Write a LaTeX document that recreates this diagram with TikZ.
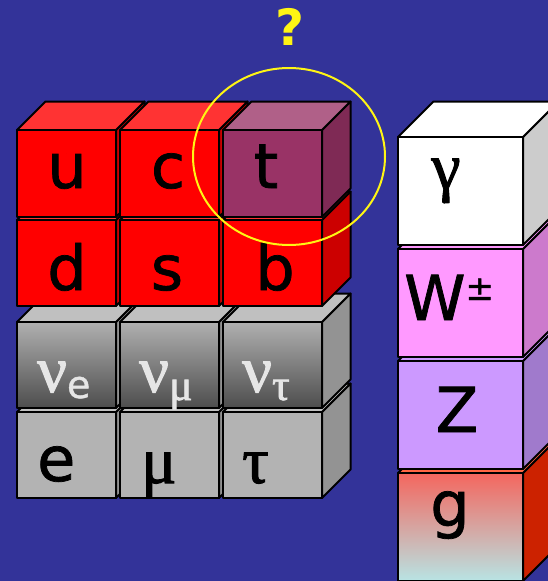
\documentclass[tikz,border=0pt]{standalone}
\usepackage{fontspec}
\setmainfont{DejaVu Sans}
\newfontfamily\labelfont[FakeBold=1.2]{DejaVu Sans}
\newfontfamily\greekfont[FakeBold=1.5]{Liberation Serif}
\usepackage{tikz}
\definecolor{bgblue}{RGB}{51,51,153}
\definecolor{qfront}{RGB}{255,0,0}
\definecolor{qtop}{RGB}{255,51,51}
\definecolor{qside}{RGB}{204,0,0}
\definecolor{tfront}{RGB}{153,51,102}
\definecolor{ttop}{RGB}{176,96,136}
\definecolor{tside}{RGB}{127,42,85}
\definecolor{ltop}{RGB}{192,192,192}
\definecolor{lside}{RGB}{147,147,147}
\definecolor{lfront}{RGB}{179,179,179}
\definecolor{nuhigh}{RGB}{176,176,176}
\definecolor{nulow}{RGB}{77,77,77}
\definecolor{nutext}{RGB}{230,230,230}
\definecolor{gside}{RGB}{204,204,204}
\definecolor{wfront}{RGB}{255,153,255}
\definecolor{wside}{RGB}{204,122,204}
\definecolor{zfront}{RGB}{204,153,255}
\definecolor{zside}{RGB}{160,122,204}
\definecolor{glhigh}{RGB}{244,102,94}
\definecolor{glmid}{RGB}{214,192,192}
\definecolor{gllow}{RGB}{184,228,228}
\definecolor{gltop}{RGB}{255,102,68}
\definecolor{glside}{RGB}{204,34,0}
\definecolor{ring}{RGB}{255,245,20}
\newcommand{\block}[8]{%
  \filldraw[edge,fill=#8] (#1+#3,#2) -- ++(#5,-#5) -- ++(0,#4) -- ++(-#5,#5) -- cycle;
  \filldraw[edge,fill=#7] (#1,#2) -- ++(#5,-#5) -- ++(#3,0) -- ++(-#5,#5) -- cycle;
  \path[edge,#6] (#1,#2) rectangle ++(#3,#4);
}

\begin{document}
\begin{tikzpicture}[x=1pt,y=-1pt,
  edge/.style={draw=black,line width=2pt,line join=round},
  lbl/.style={anchor=base,inner sep=0pt,font=\labelfont\fontsize{62}{62}\selectfont},
  grk/.style={anchor=base west,inner sep=0pt,font=\greekfont\fontsize{66}{66}\selectfont},
  nulbl/.style={grk,text=nutext}]
	\useasboundingbox (0,0) rectangle (548,581);
	\fill[bgblue] (0,0) rectangle (548,581);
	\block{17}{412}{99}{86}{28.5}{fill=lfront}{ltop}{lside}
	\block{120}{412}{99}{86}{28.5}{fill=lfront}{ltop}{lside}
	\block{223}{412}{99}{86}{28.5}{fill=lfront}{ltop}{lside}
	\block{17}{322}{99}{86}{28.5}{top color=nuhigh,bottom color=nulow}{ltop}{lside}
	\block{120}{322}{99}{86}{28.5}{top color=nuhigh,bottom color=nulow}{ltop}{lside}
	\block{223}{322}{99}{86}{28.5}{top color=nuhigh,bottom color=nulow}{ltop}{lside}
	\block{17}{220}{99}{86}{28.5}{fill=qfront}{qtop}{qside}
	\block{120}{220}{99}{86}{28.5}{fill=qfront}{qtop}{qside}
	\block{223}{220}{99}{86}{28.5}{fill=qfront}{qtop}{qside}
	\block{17}{130}{99}{87}{28.5}{fill=qfront}{qtop}{qside}
	\block{120}{130}{99}{87}{28.5}{fill=qfront}{qtop}{qside}
	\block{223}{130}{99}{87}{28.5}{fill=tfront}{ttop}{tside}
	\block{398}{473}{125}{108}{35.5}{top color=glhigh,middle color=glmid,bottom color=gllow}{gltop}{glside}
	\block{398}{361}{125}{108}{35.5}{fill=zfront}{zfront}{zside}
	\block{398}{249}{125}{108}{35.5}{fill=wfront}{wfront}{wside}
	\block{398}{137}{125}{108}{35.5}{fill=white}{white}{gside}
	\node[lbl] (up) at (67,188) {u};
	\node[lbl] (charm) at (168,188) {c};
	\node[lbl] (top) at (266,188) {t};
	\node[lbl] (down) at (67,290) {d};
	\node[lbl] (strange) at (167,290) {s};
	\node[lbl] (bottom) at (275,290) {b};
	\node[nulbl] (nue) at (37,392) {ν{\labelfont\fontsize{38}{38}\selectfont\raisebox{-6pt}{e}}};
	\node[nulbl] (numu) at (139,392) {ν{\fontsize{44}{44}\selectfont\raisebox{-8pt}{μ}}};
	\node[nulbl] (nutau) at (242,392) {ν{\fontsize{44}{44}\selectfont\raisebox{-8pt}{τ}}};
	\node[lbl,anchor=base west] (electron) at (37,481) {e};
	\node[grk] (muon) at (141,483) {μ};
	\node[grk] (tau) at (242,483) {τ};
	\node[grk,anchor=base] (photon) at (446,189) {γ};
	\node[lbl,anchor=base west] (wboson) at (404,320) {W{\fontsize{34}{34}\selectfont\raisebox{20pt}{±}}};
	\node[lbl] (zboson) at (457,432) {Z};
	\node[lbl] (gluon) at (450,526) {g};
	\node[anchor=base,inner sep=0pt,text=ring,font=\bfseries\fontsize{50}{50}\selectfont] (query) at (290,45) {?};
	\draw[ring,line width=2pt] (289,156.5) ellipse [x radius=96pt,y radius=88.5pt];
\end{tikzpicture}
\end{document}
